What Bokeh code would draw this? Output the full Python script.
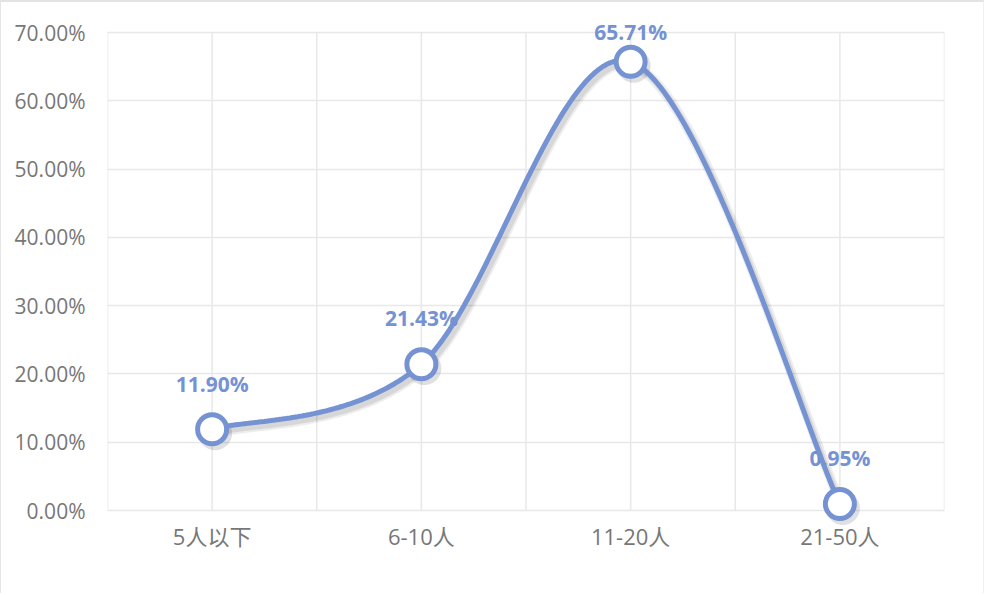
import numpy as np
from bokeh.plotting import figure
from bokeh.models import Range1d, FixedTicker, NumeralTickFormatter
from bokeh.embed import file_html
from bokeh.resources import INLINE
from bokeh.core.properties import value

# ---- data ----
categories = ["5人以下", "6-10人", "11-20人", "21-50人"]
shares = [0.1190, 0.2143, 0.6571, 0.0095]
share_labels = ["11.90%", "21.43%", "65.71%", "0.95%"]
y_ticks = [0.0, 0.1, 0.2, 0.3, 0.4, 0.5, 0.6, 0.7]

# ---- style ----
BLUE = "#7592d2"
GRID = "#e8e8e8"
TICK_TXT = "#777777"
label_offsets = [-45, -46, -30, -46]

xs = np.arange(len(categories)) + 0.5
ys = np.array(shares)


def smooth(x, y, n=60):
    P = np.column_stack([x, y])
    E = np.vstack([P[0], P, P[-1]])
    out = []
    for i in range(len(P) - 1):
        p0, p1, p2, p3 = E[i], E[i + 1], E[i + 2], E[i + 3]
        c1 = p1 + (p2 - p0) / 6.0
        c2 = p2 - (p3 - p1) / 6.0
        t = np.linspace(0, 1, n)[:, None]
        seg = ((1 - t) ** 3) * p1 + 3 * ((1 - t) ** 2) * t * c1 + 3 * (1 - t) * (t ** 2) * c2 + (t ** 3) * p2
        out.append(seg if i == 0 else seg[1:])
    return np.vstack(out)


curve = smooth(xs, ys)

FRAME_W, AXIS_H, EXTRA_TOP, EXTRA_BOTTOM = 837, 478, 20, 18
x_end = float(len(categories))
y_top = y_ticks[-1]
y_end = y_top * (AXIS_H + EXTRA_TOP) / AXIS_H
y_start = -y_top * EXTRA_BOTTOM / AXIS_H

p = figure(
    width=984, height=593,
    x_range=Range1d(0, x_end), y_range=Range1d(y_start, y_end),
    output_backend="svg", toolbar_location=None,
    min_border_left=106, min_border_right=41,
    min_border_top=30 - EXTRA_TOP, min_border_bottom=85 - EXTRA_BOTTOM,
)
p.styles = {"border-top": "2px solid #e3e3e3", "border-left": "1px solid #e6e6e6",
            "border-right": "1px solid #f0f0f0"}
p.outline_line_color = None
p.background_fill_color = "white"
p.border_fill_color = "white"

# grids
p.xgrid.grid_line_color = None
p.ygrid.ticker = FixedTicker(ticks=y_ticks)
p.ygrid.grid_line_color = GRID
p.ygrid.grid_line_width = 1.5
vx = np.arange(0, x_end + 0.01, 0.5)
p.segment(x0=vx, y0=np.full_like(vx, y_ticks[0]), x1=vx, y1=np.full_like(vx, y_top),
          line_color=GRID, line_width=1.5)

# axes
p.yaxis.ticker = FixedTicker(ticks=y_ticks)
p.yaxis.formatter = NumeralTickFormatter(format="0.00%")
p.xaxis.ticker = FixedTicker(ticks=list(xs))
p.xaxis.major_label_overrides = {float(x): c for x, c in zip(xs, categories)}
for ax in (p.xaxis, p.yaxis):
    ax.axis_line_color = None
    ax.major_tick_line_color = None
    ax.minor_tick_line_color = None
    ax.major_label_text_color = TICK_TXT
    ax.major_label_text_font = "Open Sans, Noto Sans CJK SC"
p.yaxis.major_label_text_font_size = "21px"
p.xaxis.major_label_text_font_size = "22px"
p.yaxis.major_label_standoff = 16
p.xaxis.major_label_standoff = 4 - EXTRA_BOTTOM

# data labels (drawn beneath the line, as in the original)
p.text(x=xs, y=ys, text=share_labels, y_offset=label_offsets,
       text_align="center", text_baseline="middle",
       text_font=value("Open Sans"), text_font_style="bold",
       text_font_size="21px", text_color=BLUE)

# shadow
dx = 3 * x_end / FRAME_W
dy = -4 * y_top / AXIS_H
p.line(curve[:, 0] + dx, curve[:, 1] + dy, line_color="black", line_alpha=0.07, line_width=10)
p.line(curve[:, 0] + dx, curve[:, 1] + dy, line_color="black", line_alpha=0.09, line_width=6)
p.scatter(xs + dx, ys + dy, size=34, fill_color="black", fill_alpha=0.12, line_color=None)

# line + markers
p.line(curve[:, 0], curve[:, 1], line_color=BLUE, line_width=5, line_cap="round")
p.scatter(xs, ys, size=29, fill_color="white", line_color=BLUE, line_width=5)

with open("out.html", "w") as f:
    f.write(file_html(p, INLINE))
